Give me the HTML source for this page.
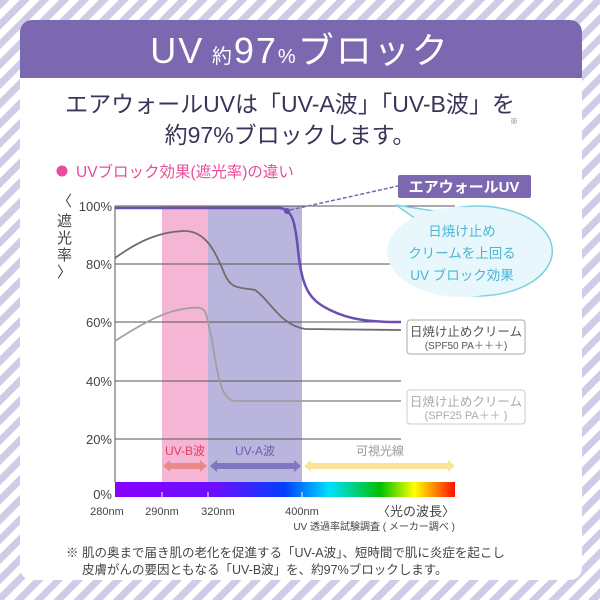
<!DOCTYPE html>
<html><head><meta charset="utf-8">
<style>
html,body{margin:0;padding:0;width:600px;height:600px;overflow:hidden}
body{background:repeating-linear-gradient(135deg,#cfcce8 0 7px,#ffffff 7px 14px);font-family:"Liberation Sans","Noto Sans CJK JP",sans-serif}
</style></head><body>
<svg width="600" height="600" viewBox="0 0 600 600" style="position:absolute;left:0;top:0;font-family:'Liberation Sans','Noto Sans CJK JP',sans-serif">
<defs>
<linearGradient id="spec" x1="0" x2="1" y1="0" y2="0">
<stop offset="0" stop-color="#8a00ff"/><stop offset="0.3" stop-color="#6a10ff"/>
<stop offset="0.5" stop-color="#0040ff"/><stop offset="0.63" stop-color="#00e0ff"/>
<stop offset="0.78" stop-color="#00c000"/><stop offset="0.88" stop-color="#ffff00"/>
<stop offset="1" stop-color="#ff1000"/></linearGradient>
</defs>
<rect x="20" y="20" width="562" height="560" rx="12" fill="#fff"/>
<path d="M20 78 V32 a12 12 0 0 1 12 -12 H570 a12 12 0 0 1 12 12 V78 Z" fill="#7b68b0"/>
<text x="300" y="63" text-anchor="middle" fill="#fff" font-size="36" letter-spacing="2"><tspan>UV</tspan><tspan font-size="20"> 約</tspan><tspan>97</tspan><tspan font-size="20">%</tspan><tspan>ブロック</tspan></text>
<text x="290" y="112" text-anchor="middle" fill="#3c3458" font-size="23">エアウォールUVは「UV-A波」「UV-B波」を</text>
<text x="510" y="124" font-size="8" fill="#666">※</text>
<text x="290" y="143" text-anchor="middle" fill="#3c3458" font-size="23">約97%ブロックします。</text>
<circle cx="62" cy="171" r="5.5" fill="#e84c9a"/>
<text x="76" y="177" fill="#e84c9a" font-size="15.5">UVブロック効果(遮光率)の違い</text>
<rect x="162" y="206" width="46" height="276" fill="#f5b6d6"/>
<rect x="208" y="206" width="94" height="276" fill="#b9b5dc"/>
<g stroke="#555" stroke-width="1">
<line x1="115" y1="206" x2="455" y2="206"/><line x1="115" y1="264" x2="455" y2="264"/>
<line x1="115" y1="322" x2="401" y2="322"/><line x1="115" y1="381" x2="401" y2="381"/>
<line x1="115" y1="439" x2="401" y2="439"/><line x1="115" y1="206" x2="115" y2="482"/>
</g>
<g fill="#444" font-size="13" text-anchor="end">
<text x="112" y="211">100%</text><text x="112" y="269">80%</text><text x="112" y="327">60%</text>
<text x="112" y="386">40%</text><text x="112" y="444">20%</text><text x="112" y="499">0%</text></g>
<text x="57" y="206" font-size="15" fill="#444">〈</text>
<text x="57" y="226" font-size="15" fill="#444">遮</text><text x="57" y="243" font-size="15" fill="#444">光</text><text x="57" y="260" font-size="15" fill="#444">率</text>
<text x="57" y="277" font-size="15" fill="#444">〉</text>
<path d="M115 258 C140 240 160 232 183 231 C205 230 215 250 225 275 C232 290 240 287 255 290 C270 300 280 325 305 329 L401 330" fill="none" stroke="#6d6d6d" stroke-width="1.8"/>
<path d="M115 341 C140 325 165 310 190 308 C208 306 205 310 212 340 C218 380 222 400 235 401 L401 401" fill="none" stroke="#a0a0a0" stroke-width="1.8"/>
<path d="M115 208 L280 208 C292 210 295 220 298 250 C302 290 310 300 330 310 C350 320 370 322 401 322" fill="none" stroke="#6b4fb0" stroke-width="2.5"/>
<circle cx="287" cy="211" r="3" fill="#6b4fb0"/>
<line x1="290" y1="210" x2="398" y2="186" stroke="#7b68b0" stroke-width="1.5" stroke-dasharray="4,2"/>
<rect x="398" y="175" width="133" height="23" rx="2" fill="#7b68b0"/>
<text x="464" y="192" text-anchor="middle" fill="#fff" font-size="15" font-weight="bold">エアウォールUV</text>
<path d="M396 205 L420 222 A75 45 0 1 0 440 212 Z" fill="#e8f7fb" stroke="#7dd0e0" stroke-width="1.5"/>
<ellipse cx="462" cy="252" rx="75" ry="45" fill="#e8f7fb"/>
<g fill="#4ab5d8" font-size="13.5" text-anchor="middle">
<text x="462" y="236">日焼け止め</text><text x="462" y="258">クリームを上回る</text><text x="462" y="280">UV ブロック効果</text></g>
<rect x="407" y="320" width="118" height="34" rx="3" fill="#fff" stroke="#aaa"/>
<text x="466" y="336" text-anchor="middle" font-size="12.5" fill="#555">日焼け止めクリーム</text>
<text x="466" y="349" text-anchor="middle" font-size="10" fill="#555">(SPF50 PA＋＋＋)</text>
<rect x="407" y="390" width="118" height="34" rx="3" fill="#fff" stroke="#ccc"/>
<text x="466" y="406" text-anchor="middle" font-size="12.5" fill="#aaa">日焼け止めクリーム</text>
<text x="466" y="419" text-anchor="middle" font-size="11" fill="#aaa">(SPF25 PA＋＋ )</text>
<text x="185" y="455" text-anchor="middle" font-size="12" fill="#e0405a">UV-B波</text>
<text x="255" y="455" text-anchor="middle" font-size="12" fill="#6b5fb0">UV-A波</text>
<text x="380" y="455" text-anchor="middle" font-size="12" fill="#999">可視光線</text>
<path d="M163 466 l7 -6 v3 h30 v-3 l7 6 l-7 6 v-3 h-30 v3 Z" fill="#e88a8a"/>
<path d="M210 466 l7 -6 v3 h77 v-3 l7 6 l-7 6 v-3 h-77 v3 Z" fill="#8077c0"/>
<path d="M304 466 l7 -6 v3 h137 v-3 l7 6 l-7 6 v-3 h-137 v3 Z" fill="#fbe49a"/>
<rect x="115" y="482" width="340" height="15" fill="url(#spec)"/>
<g stroke="#fff" stroke-width="1"><line x1="162" y1="492" x2="162" y2="497"/><line x1="208" y1="492" x2="208" y2="497"/><line x1="302" y1="492" x2="302" y2="497"/></g>
<g font-size="11" fill="#444" text-anchor="middle">
<text x="107" y="515">280nm</text><text x="162" y="515">290nm</text><text x="218" y="515">320nm</text><text x="302" y="515">400nm</text></g>
<text x="455" y="516" text-anchor="end" font-size="13" fill="#444">〈光の波長〉</text>
<text x="455" y="530" text-anchor="end" font-size="10" fill="#444">UV 透過率試験調査 ( メーカー調べ )</text>
<text x="66" y="557" font-size="12.5" fill="#444">※ 肌の奥まで届き肌の老化を促進する「UV-A波」、短時間で肌に炎症を起こし</text>
<text x="82" y="574" font-size="12.5" fill="#444">皮膚がんの要因ともなる「UV-B波」を、約97%ブロックします。</text>
</svg>
</body></html>
